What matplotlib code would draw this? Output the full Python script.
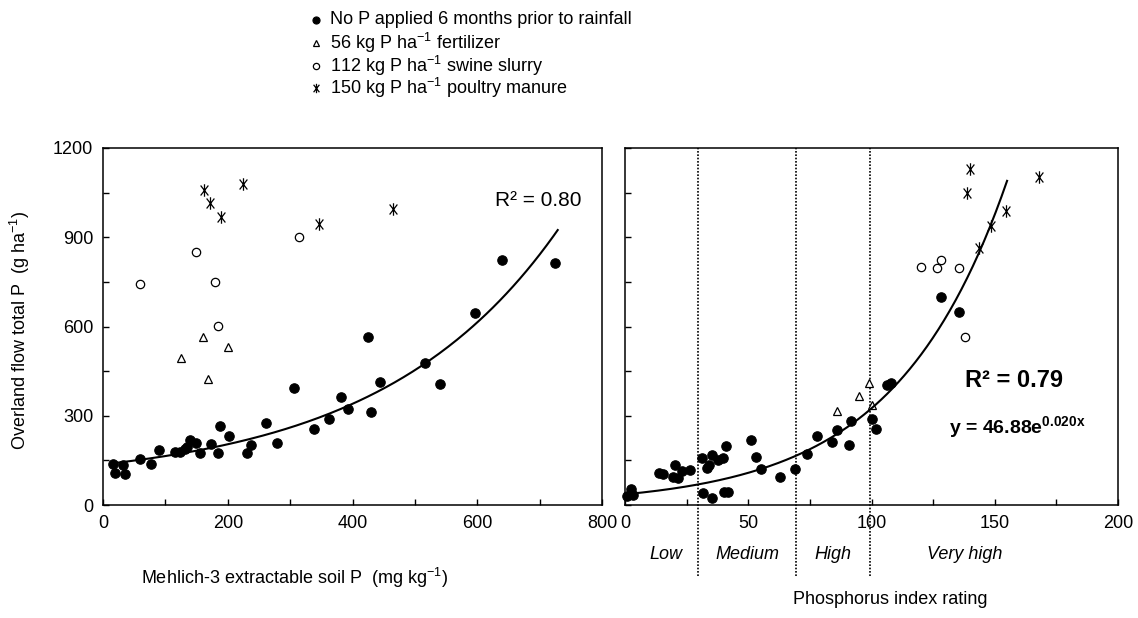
import numpy as np
import matplotlib
matplotlib.use("Agg")
import matplotlib.pyplot as plt
from matplotlib.lines import Line2D
from matplotlib.path import Path
from matplotlib.ticker import MultipleLocator

plt.rcParams['font.family'] = ['Liberation Sans', 'DejaVu Sans']
plt.rcParams['mathtext.fontset'] = 'custom'
plt.rcParams['mathtext.rm'] = 'Liberation Sans'
plt.rcParams['mathtext.it'] = 'Liberation Sans:italic'
plt.rcParams['mathtext.bf'] = 'Liberation Sans:bold'

# ---- left panel: Mehlich-3 soil P vs runoff P
m3_nop_x = [16, 18.7, 32, 34.7, 59.8, 77.5, 89.7, 115, 123, 131, 134.6, 139, 149.6, 155,
            173.6, 184.3, 188, 202, 230.8, 237.7, 260.7, 278.8, 307, 339, 363, 382, 392.6,
            424.7, 430, 444.4, 516.6, 540.6, 596.7, 640, 725]
m3_nop_y = [138, 109, 134, 104, 153, 138, 185, 177, 179, 187, 194, 218, 207, 174,
            205, 174, 265, 232, 174, 202, 277, 209, 392, 254, 288, 364, 322,
            566, 314, 415, 478, 406, 646, 823, 815]
m3_fert_x = [125.5, 160.3, 168.3, 200.9]
m3_fert_y = [493, 566, 422, 532]
m3_swine_x = [59.8, 149.6, 179, 184.3, 314]
m3_swine_y = [743, 849, 751, 602, 900]
m3_poultry_x = [162, 171, 189.6, 224.4, 346, 464.7]
m3_poultry_y = [1059, 1014, 967, 1078, 944, 994]

# trend line as drawn: y = c + a*exp(b*x)
m3_fit_c, m3_fit_a, m3_fit_b = 70.0, 66.6, 0.0035
m3_fit_range = (16, 729)

# ---- right panel: P index rating vs runoff P
pi_nop_x = [0.9, 2.3, 3.1, 13.9, 15.5, 19.6, 20.3, 21.6, 23, 26.4, 31.1, 33.4, 34.2, 35.1,
            37.8, 39.6, 40.9, 31.8, 35.1, 40.1, 41.9, 51.1, 53.1, 55.3, 62.8, 68.9, 73.9,
            78, 83.9, 86.1, 90.9, 91.6, 100, 102, 106.1, 108.1, 128, 135.5]
pi_nop_y = [30, 53, 33, 106, 104, 93, 135, 90, 115, 118, 157, 123, 135, 168,
            151, 157, 198, 39, 22, 43, 45, 219, 160, 121, 93, 121, 171,
            233, 213, 252, 202, 282, 290, 254, 403, 411, 698, 648]
pi_fert_x = [86.1, 95, 99.1, 100]
pi_fert_y = [316, 366, 411, 336]
pi_swine_x = [119.9, 126.4, 128, 135.5, 137.8]
pi_swine_y = [801, 798, 824, 798, 566]
pi_poultry_x = [140.1, 138.8, 168, 154.7, 148.6, 143.6]
pi_poultry_y = [1128, 1050, 1101, 988, 938, 863]

pi_fit_a, pi_fit_b = 36.0, 0.022
pi_fit_range = (1, 155)
pi_class_bounds = [29.5, 69.5, 99.5]
pi_class_names = ['Low', 'Medium', 'High', 'Very high']
pi_class_x = [16.6, 49.5, 84.5, 137.8]

# asterisk-like marker: an X with a vertical stroke
ast = Path([(0, -1), (0, 1), (-0.62, -0.8), (0.62, 0.8), (-0.62, 0.8), (0.62, -0.8)],
           [Path.MOVETO, Path.LINETO] * 3)

styles = {
    'nop': dict(marker='o', ms=6.8, mfc='black', mec='black', mew=0.8),
    'fert': dict(marker='^', ms=6, mfc='white', mec='black', mew=0.9),
    'swine': dict(marker='o', ms=6, mfc='white', mec='black', mew=0.9),
    'poultry': dict(marker=ast, ms=9, mfc='none', mec='black', mew=0.9),
}

fig = plt.figure(figsize=(11.38, 6.18), dpi=100)
W, H = 1138, 618
ax1 = fig.add_axes([103 / W, 113 / H, 499 / W, 357 / H])
ax2 = fig.add_axes([625 / W, 113 / H, 493 / W, 357 / H])


def draw(ax, groups):
    for key, (xs, ys) in groups.items():
        ax.plot(xs, ys, ls='none', clip_on=False, zorder=3, **styles[key])


draw(ax1, {'swine': (m3_swine_x, m3_swine_y), 'fert': (m3_fert_x, m3_fert_y),
           'poultry': (m3_poultry_x, m3_poultry_y), 'nop': (m3_nop_x, m3_nop_y)})
xx = np.linspace(*m3_fit_range, 200)
ax1.plot(xx, m3_fit_c + m3_fit_a * np.exp(m3_fit_b * xx), color='black', lw=1.5, zorder=4)

draw(ax2, {'swine': (pi_swine_x, pi_swine_y), 'fert': (pi_fert_x, pi_fert_y),
           'poultry': (pi_poultry_x, pi_poultry_y), 'nop': (pi_nop_x, pi_nop_y)})
xx = np.linspace(*pi_fit_range, 200)
ax2.plot(xx, pi_fit_a * np.exp(pi_fit_b * xx), color='black', lw=1.5, zorder=4)

for ax in (ax1, ax2):
    ax.set_ylim(0, 1200)
    ax.yaxis.set_major_locator(MultipleLocator(300))
    ax.yaxis.set_minor_locator(MultipleLocator(150))
    ax.tick_params(which='both', direction='in', length=4, width=1, labelsize=13, pad=7)
    for s in ax.spines.values():
        s.set_linewidth(1.1)

ax1.set_xlim(0, 800)
ax1.xaxis.set_major_locator(MultipleLocator(200))
ax1.xaxis.set_minor_locator(MultipleLocator(100))

ax2.set_xlim(0, 200)
ax2.xaxis.set_major_locator(MultipleLocator(50))
ax2.xaxis.set_minor_locator(MultipleLocator(25))
ax2.tick_params(axis='y', which='both', labelleft=False)

# P index class boundaries, running below the axis
ax2.vlines(pi_class_bounds, -0.2, 1, transform=ax2.get_xaxis_transform(), colors='black',
           linestyles=(0, (1, 1)), lw=1.2, clip_on=False)
for name, cx in zip(pi_class_names, pi_class_x):
    ax2.text(cx, -0.138, name, transform=ax2.get_xaxis_transform(), ha='center', va='center',
             fontsize=13, style='italic')

ax1.text(767, 1025, 'R² = 0.80', ha='right', va='center', fontsize=15)
ax2.text(157.7, 417, 'R² = 0.79', ha='center', va='center', fontsize=17, fontweight='bold')
ax2.text(159, 262, r'y = 46.88e$^{\mathbf{0.020x}}$', ha='center', va='center', fontsize=14,
         fontweight='bold')

fig.text(20 / W, 1 - 330 / H, r'Overland flow total P  (g ha$^{-1}$)', rotation=90,
         ha='center', va='center', fontsize=13)
fig.text(295 / W, 1 - 578 / H, r'Mehlich-3 extractable soil P  (mg kg$^{-1}$)',
         ha='center', va='center', fontsize=13)
fig.text(890 / W, 1 - 600 / H, 'Phosphorus index rating', ha='center', va='center', fontsize=13)

# legend drawn by hand at the top
legend_labels = ['No P applied 6 months prior to rainfall',
                 r'56 kg P ha$^{-1}$ fertilizer',
                 r'112 kg P ha$^{-1}$ swine slurry',
                 r'150 kg P ha$^{-1}$ poultry manure']
legend_keys = ['nop', 'fert', 'swine', 'poultry']
legend_rows = [20, 43, 66, 88]
for key, lab, row in zip(legend_keys, legend_labels, legend_rows):
    st = dict(styles[key])
    st['ms'] = st['ms'] * 0.75
    fig.add_artist(Line2D([316 / W], [1 - row / H], transform=fig.transFigure, ls='none', **st))
    fig.text(330 / W, 1 - row / H, lab, ha='left', va='center', fontsize=13)

fig.savefig('out.png', dpi=100)
